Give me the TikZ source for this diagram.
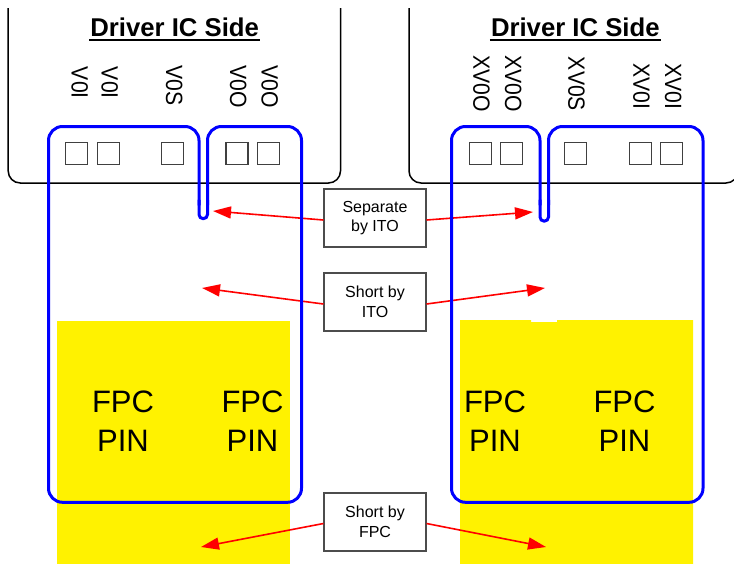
\documentclass[tikz,border=0pt]{standalone}
\usepackage{fontspec}
\setmainfont{Liberation Sans}
\newfontfamily\pinfont[FakeStretch=0.9]{Liberation Sans}
\usetikzlibrary{arrows.meta}
\begin{document}
\begin{tikzpicture}[x=1pt,y=-1pt,
  icline/.style={draw=black, line width=1.5pt, rounded corners=12pt},
  pad/.style={draw=black!75, line width=1.1pt, minimum size=22pt, inner sep=0pt},
  pinlabel/.style={rotate=-90, anchor=base west, inner sep=0pt, font=\pinfont\fontsize{23.5}{23.5}\selectfont},
  titletext/.style={anchor=base, inner sep=0pt, font=\bfseries\fontsize{25.7}{26}\selectfont},
  fpctext/.style={align=center, inner sep=0pt, font=\fontsize{31}{39}\selectfont},
  callout/.style={draw=black!70, line width=1.1pt, minimum width=102pt, minimum height=58pt, inner sep=0pt, align=center, font=\fontsize{16}{19.5}\selectfont},
  redarrow/.style={draw=red, line width=1.6pt, -{Triangle[length=18pt,width=12pt]}},
  bluebox/.style={draw=blue, line width=3pt, rounded corners=14pt, line cap=round, line join=round},
  slitend/.style={draw=blue, line width=3pt, rounded corners=4.2pt, line cap=round},
  underl/.style={draw=black, line width=1.6pt}
]
\useasboundingbox (0,0) rectangle (734,563);
\clip (0,0) rectangle (734,563);

% IC outlines
\draw[icline] (8.2,8) -- (8.2,183) -- (340.5,183) -- (340.5,8);
\draw[icline] (409,8) -- (409,183) -- (738,183) -- (738,8);

% titles
\node[titletext] (tl) at (174.7,36.7) {Driver IC Side};
\node[titletext] (tr) at (575.3,36.7) {Driver IC Side};
\draw[underl] ([xshift=-1pt,yshift=-3.3pt]tl.base west) -- ([xshift=1pt,yshift=-3.3pt]tl.base east);
\draw[underl] ([xshift=-1pt,yshift=-3.3pt]tr.base west) -- ([xshift=1pt,yshift=-3.3pt]tr.base east);

% pin labels
\node[pinlabel] (l1) at (71.7,66.7) {V0I};
\node[pinlabel] (l2) at (101.7,66.7) {V0I};
\node[pinlabel] (l3) at (166,65) {V0S};
\node[pinlabel] (l4) at (230,65) {V0O};
\node[pinlabel] (l5) at (261.7,65) {V0O};
\node[pinlabel] (r1) at (473.3,55) {XV0O};
\node[pinlabel] (r2) at (505,55) {XV0O};
\node[pinlabel] (r3) at (568.3,56.7) {XV0S};
\node[pinlabel] (r4) at (633.3,63.3) {XV0I};
\node[pinlabel] (r5) at (665,63.3) {XV0I};

% pads
\node[pad] (pl1) at (76.7,153.3) {};
\node[pad] (pl2) at (108.3,153.3) {};
\node[pad] (pl3) at (172.7,153.3) {};
\node[pad] (pl4) at (237,153.3) {};
\node[pad] (pl5) at (268.3,153.3) {};
\node[pad] (pr1) at (480.3,153.3) {};
\node[pad] (pr2) at (511.2,153.3) {};
\node[pad] (pr3) at (575.3,153.3) {};
\node[pad] (pr4) at (640.3,153.3) {};
\node[pad] (pr5) at (671.3,153.3) {};

% yellow FPC areas
\fill[yellow] (57,321) rectangle (290,566);
\fill[yellow] (460,320) -- (531,320) -- (531,322) -- (557,322) -- (557,320) -- (693,320) -- (693,566) -- (460,566) -- cycle;

\node[fpctext] (f1) at (123,421.25) {FPC\\PIN};
\node[fpctext] (f2) at (252.5,421.25) {FPC\\PIN};
\node[fpctext] (f3) at (495,421.25) {FPC\\PIN};
\node[fpctext] (f4) at (624.5,421.25) {FPC\\PIN};

% callouts
\node[callout] (sep) at (375,218) {Separate\\by ITO};
\node[callout] (ito) at (375,302) {Short by\\ITO};
\node[callout] (fpc) at (375,522) {Short by\\FPC};

\coordinate (sepL) at (213,211);
\coordinate (sepR) at (533,212);
\coordinate (itoL) at (202,288);
\coordinate (itoR) at (545,288);
\coordinate (fpcL) at (201,547);
\coordinate (fpcR) at (546,547);

\draw[redarrow] ([yshift=-2pt]sep.west) -- (sepL);
\draw[redarrow] ([yshift=-2pt]sep.east) -- (sepR);
\draw[redarrow] ([yshift=-2pt]ito.west) -- (itoL);
\draw[redarrow] ([yshift=-2pt]ito.east) -- (itoR);
\draw[redarrow] ([yshift=-1.5pt]fpc.west) -- (fpcL);
\draw[redarrow] ([yshift=-1.5pt]fpc.east) -- (fpcR);

% blue groupings
\draw[bluebox] (199,205) -- (199,126.5) -- (48.5,126.5) -- (48.5,502.3) -- (301.5,502.3) -- (301.5,126.5) -- (207.5,126.5) -- (207.5,205);
\draw[slitend] (199,200) -- (199,218.7) -- (207.5,218.7) -- (207.5,200);
\draw[bluebox] (540,205) -- (540,126.5) -- (451.5,126.5) -- (451.5,502.3) -- (703,502.3) -- (703,126.5) -- (548.5,126.5) -- (548.5,205);
\draw[slitend] (540,200) -- (540,221.2) -- (548.5,221.2) -- (548.5,200);
\end{tikzpicture}
\end{document}
